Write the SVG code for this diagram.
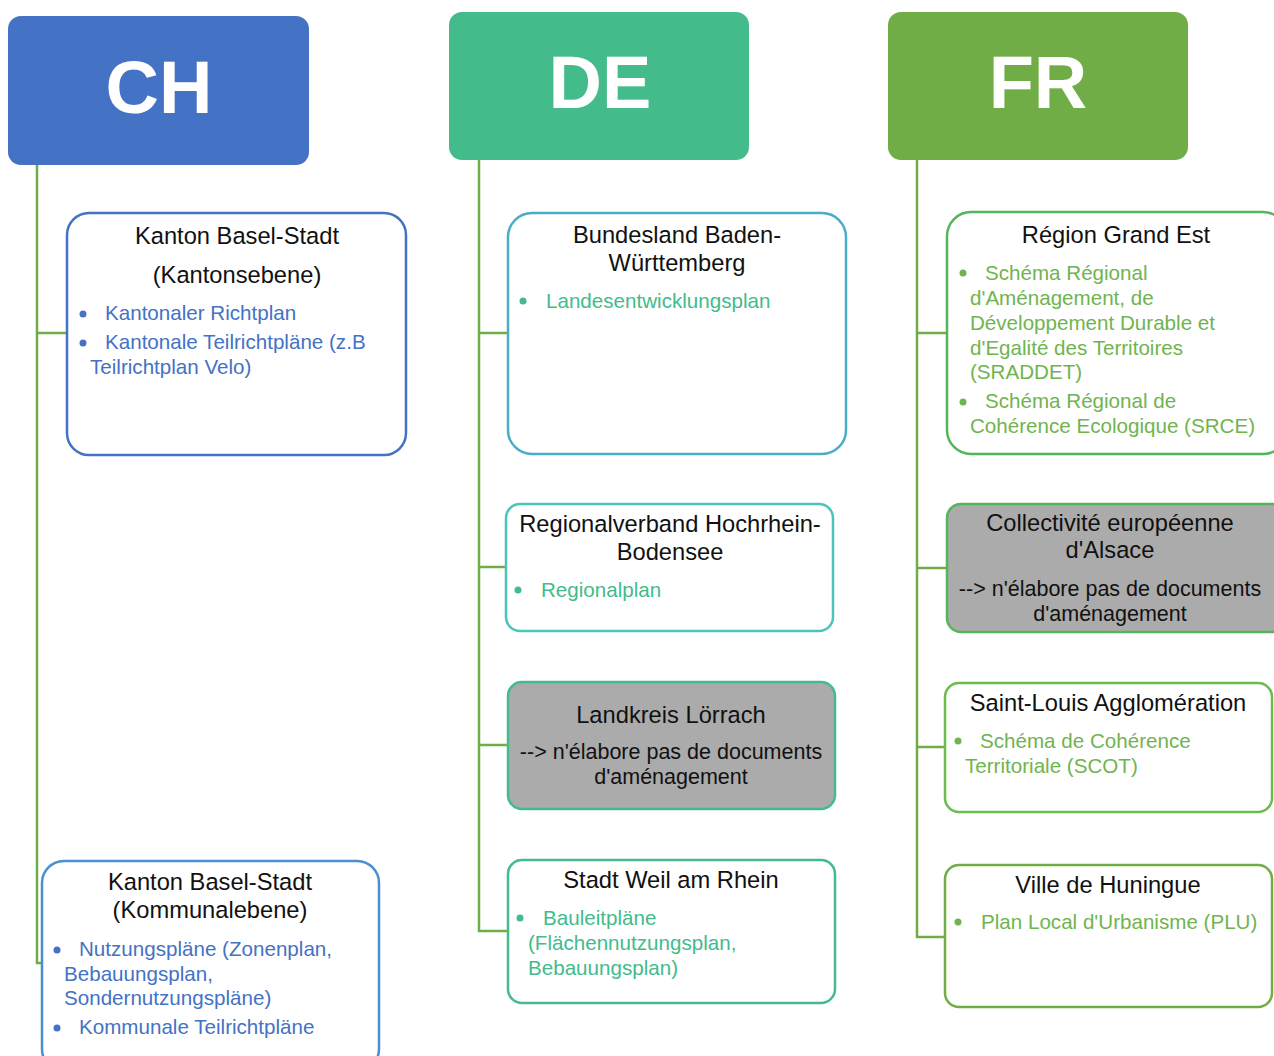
<svg xmlns="http://www.w3.org/2000/svg" width="1274" height="1056" viewBox="0 0 1274 1056">
<style>
text{font-family:"Liberation Sans",Arial,sans-serif;}
.hdr{font-size:74px;font-weight:bold;fill:#fff;text-anchor:middle;}
.t{font-size:23.7px;fill:#111;text-anchor:middle;}
.n{font-size:21.5px;fill:#111;text-anchor:middle;}
.b{font-size:20.6px;}
.chb{fill:#4472C4;}
.deb{fill:#43BB8B;}
.frb{fill:#70B44F;}
.box{fill:#fff;stroke-width:2.5;}
.conn{fill:none;stroke:#70AD47;stroke-width:2.5;}
</style>
<rect width="1274" height="1056" fill="#fff"/>
<g id="connectors">
<path class="conn" d="M37,165 V963 H42 M37,333 H67"/>
<path class="conn" d="M479,160 V931 H508 M479,333 H508 M479,567 H506 M479,745 H508"/>
<path class="conn" d="M917,160 V937 H946 M917,333 H947 M917,568 H947 M917,747 H945"/>
</g>
<g id="hdr-ch"><rect x="8" y="16" width="301" height="149" rx="13" fill="#4472C4"/><text class="hdr" x="159" y="113">CH</text></g>
<g id="hdr-de"><rect x="449" y="12" width="300" height="148" rx="13" fill="#43BB8B"/><text class="hdr" x="600" y="108">DE</text></g>
<g id="hdr-fr"><rect x="888" y="12" width="300" height="148" rx="13" fill="#70AD47"/><text class="hdr" x="1038" y="108">FR</text></g>

<g id="ch-kanton">
<rect class="box" x="67" y="213" width="339" height="242" rx="22" stroke="#4472C4"/>
<text class="t" x="237" y="244">Kanton Basel-Stadt</text>
<text class="t" x="237" y="283">(Kantonsebene)</text>
<circle class="chb" cx="83" cy="314" r="3.5"/>
<text class="b chb" x="105" y="320">Kantonaler Richtplan</text>
<circle class="chb" cx="83" cy="343" r="3.5"/>
<text class="b chb" x="105" y="349">Kantonale Teilrichtpläne (z.B</text>
<text class="b chb" x="90" y="374">Teilrichtplan Velo)</text>
</g>

<g id="ch-kommunal">
<rect class="box" x="42" y="861" width="337" height="210" rx="22" stroke="#4A8FCF"/>
<text class="t" x="210" y="890">Kanton Basel-Stadt</text>
<text class="t" x="210" y="918">(Kommunalebene)</text>
<circle class="chb" cx="57" cy="950" r="3.5"/>
<text class="b chb" x="79" y="956">Nutzungspläne (Zonenplan,</text>
<text class="b chb" x="64" y="981">Bebauungsplan,</text>
<text class="b chb" x="64" y="1005">Sondernutzungspläne)</text>
<circle class="chb" cx="57" cy="1028" r="3.5"/>
<text class="b chb" x="79" y="1034">Kommunale Teilrichtpläne</text>
</g>

<g id="de-bundesland">
<rect class="box" x="508" y="213" width="338" height="241" rx="24" stroke="#4BACC6"/>
<text class="t" x="677" y="243">Bundesland Baden-</text>
<text class="t" x="677" y="271">Württemberg</text>
<circle class="deb" cx="523" cy="301" r="3.5"/>
<text class="b deb" x="546" y="308">Landesentwicklungsplan</text>
</g>

<g id="de-regional">
<rect class="box" x="506" y="504" width="327" height="127" rx="14" stroke="#4BC4BC"/>
<text class="t" x="670" y="532">Regionalverband Hochrhein-</text>
<text class="t" x="670" y="560">Bodensee</text>
<circle class="deb" cx="518" cy="590" r="3.5"/>
<text class="b deb" x="541" y="597">Regionalplan</text>
</g>

<g id="de-landkreis">
<rect x="508" y="682" width="327" height="127" rx="14" fill="#ABABAB" stroke="#43BB8B" stroke-width="2.5"/>
<text class="t" x="671" y="723">Landkreis Lörrach</text>
<text class="n" x="671" y="759">--&gt; n'élabore pas de documents</text>
<text class="n" x="671" y="784">d'aménagement</text>
</g>

<g id="de-weil">
<rect class="box" x="508" y="860" width="327" height="143" rx="14" stroke="#43BB8B"/>
<text class="t" x="671" y="888">Stadt Weil am Rhein</text>
<circle class="deb" cx="520" cy="918" r="3.5"/>
<text class="b deb" x="543" y="925">Bauleitpläne</text>
<text class="b deb" x="528" y="950">(Flächennutzungsplan,</text>
<text class="b deb" x="528" y="975">Bebauungsplan)</text>
</g>

<g id="fr-region">
<rect class="box" x="947" y="212" width="340" height="242" rx="24" stroke="#56B45B"/>
<text class="t" x="1116" y="243">Région Grand Est</text>
<circle class="frb" cx="963" cy="273" r="3.5"/>
<text class="b frb" x="985" y="280">Schéma Régional</text>
<text class="b frb" x="970" y="305">d'Aménagement, de</text>
<text class="b frb" x="970" y="330">Développement Durable et</text>
<text class="b frb" x="970" y="355">d'Egalité des Territoires</text>
<text class="b frb" x="970" y="379">(SRADDET)</text>
<circle class="frb" cx="963" cy="402" r="3.5"/>
<text class="b frb" x="985" y="408">Schéma Régional de</text>
<text class="b frb" x="970" y="433">Cohérence Ecologique (SRCE)</text>
</g>

<g id="fr-alsace">
<rect x="947" y="504" width="340" height="128" rx="14" fill="#ABABAB" stroke="#56B45B" stroke-width="2.5"/>
<text class="t" x="1110" y="531">Collectivité européenne</text>
<text class="t" x="1110" y="558">d'Alsace</text>
<text class="n" x="1110" y="596">--&gt; n'élabore pas de documents</text>
<text class="n" x="1110" y="621">d'aménagement</text>
</g>

<g id="fr-saintlouis">
<rect class="box" x="945" y="683" width="327" height="129" rx="14" stroke="#6CBB4E"/>
<text class="t" x="1108" y="711">Saint-Louis Agglomération</text>
<circle class="frb" cx="958" cy="741" r="3.5"/>
<text class="b frb" x="980" y="748">Schéma de Cohérence</text>
<text class="b frb" x="965" y="773">Territoriale (SCOT)</text>
</g>

<g id="fr-huningue">
<rect class="box" x="945" y="865" width="327" height="142" rx="14" stroke="#70AD47"/>
<text class="t" x="1108" y="893">Ville de Huningue</text>
<circle class="frb" cx="958" cy="922" r="3.5"/>
<text class="b frb" x="981" y="929">Plan Local d'Urbanisme (PLU)</text>
</g>
</svg>
